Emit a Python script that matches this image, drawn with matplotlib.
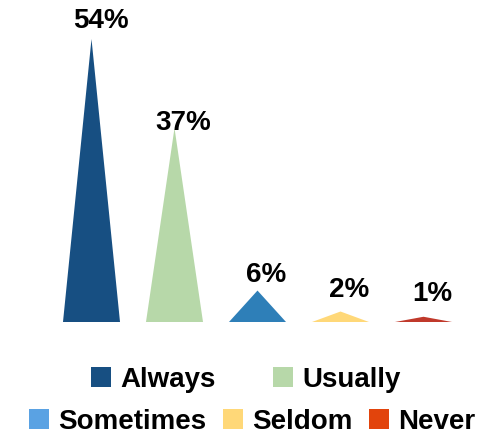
import matplotlib
matplotlib.use("Agg")
import matplotlib.pyplot as plt
import matplotlib.transforms as mtransforms
from matplotlib.patches import Patch

categories = ["Always", "Usually", "Sometimes", "Seldom", "Never"]
values = [54, 37, 6, 2, 1]
labels = ["54%", "37%", "6%", "2%", "1%"]

bar_colors = ["#174f82", "#b7d8a9", "#2e7fb8", "#ffd878", "#c0392b"]
legend_colors = ["#174f82", "#b7d8a9", "#5aa2e3", "#ffd878", "#e2440c"]
label_dy = [11, -2, 9, 15, 16]   # pixel offsets of labels above apex
label_dx = 9

plt.rcParams['font.family'] = ['Liberation Sans', 'DejaVu Sans']
plt.rcParams['font.weight'] = 'bold'

fig = plt.figure(figsize=(4.91, 4.34), dpi=100)
ax = fig.add_axes([50/491, 112/434, 415/491, 322/434])
ax.set_xlim(-0.5, 4.5)
ax.set_ylim(0, 322/(283/54))
ax.axis('off')

w = 0.687
for i, (v, c) in enumerate(zip(values, bar_colors)):
    ax.fill([i - w/2, i, i + w/2], [0, v, 0], color=c, lw=0)
    tr = mtransforms.offset_copy(ax.transData, fig=fig, x=label_dx, y=label_dy[i], units='dots')
    ax.text(i, v, labels[i], transform=tr, ha='center', va='baseline',
            fontsize=20, fontweight='bold', color='black')

handles = [Patch(facecolor=c, edgecolor='none') for c in legend_colors]
common = dict(frameon=False, handlelength=0.72, handleheight=0.72,
              handletextpad=0.33, borderpad=0, borderaxespad=0, loc='center',
              prop={'weight': 'bold', 'size': 20})
fig.legend(handles[:2], categories[:2], ncol=2, columnspacing=2.05,
           bbox_to_anchor=(246/491, 54/434), **common)
fig.legend(handles[2:], categories[2:], ncol=3, columnspacing=0.6,
           bbox_to_anchor=(252/491, 12/434), **common)

fig.savefig("out.png", dpi=100)
